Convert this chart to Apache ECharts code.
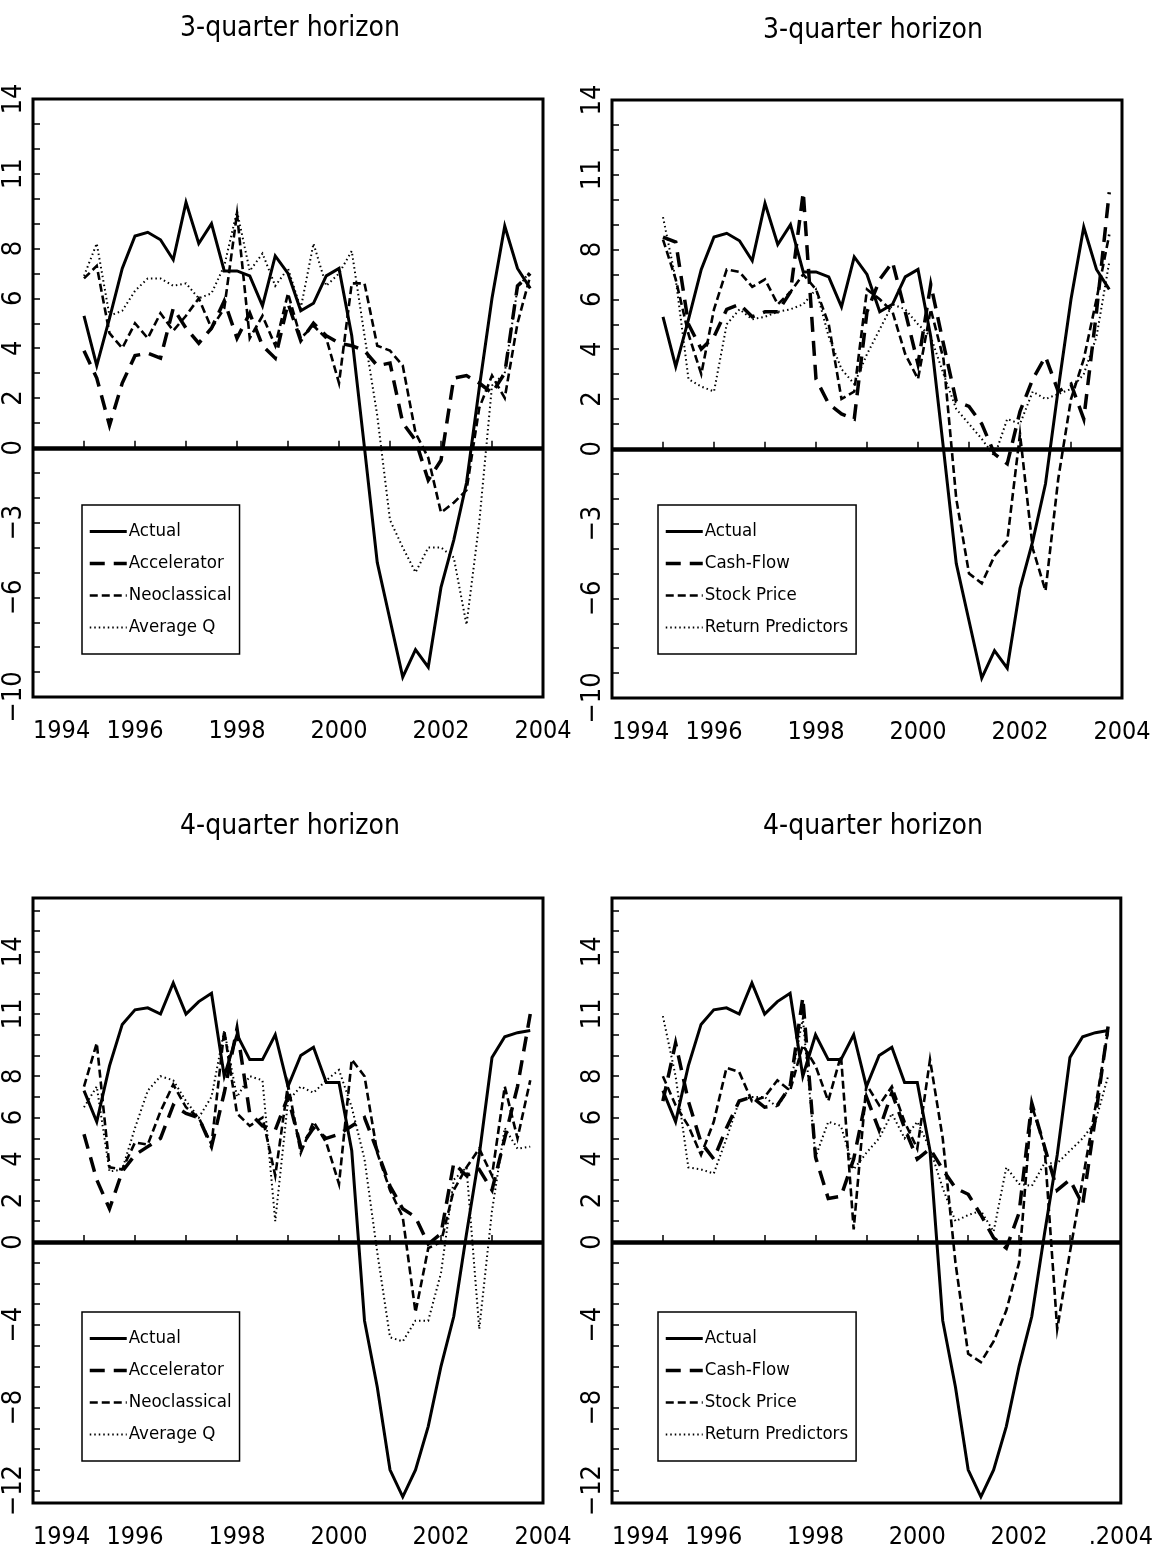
<!DOCTYPE html>
<html><head><meta charset="utf-8">
<script src="https://cdn.jsdelivr.net/npm/echarts@6/dist/echarts.min.js"></script>
<style>html,body{margin:0;padding:0;background:#fff}#c{width:1156px;height:1550px}</style>
</head><body><div id="c"></div><script>
const quarters = [1995.0,1995.25,1995.5,1995.75,1996.0,1996.25,1996.5,1996.75,1997.0,1997.25,1997.5,1997.75,1998.0,1998.25,1998.5,1998.75,1999.0,1999.25,1999.5,1999.75,2000.0,2000.25,2000.5,2000.75,2001.0,2001.25,2001.5,2001.75,2002.0,2002.25,2002.5,2002.75,2003.0,2003.25,2003.5,2003.75];

// 3-quarter horizon
const actual3 = [5.3,3.3,5.2,7.2,8.5,8.65,8.35,7.55,9.85,8.2,9.0,7.1,7.1,6.9,5.7,7.7,7.0,5.5,5.8,6.9,7.2,4.5,0.0,-4.6,-6.9,-9.2,-8.1,-8.8,-5.6,-3.7,-1.4,2.4,6.0,8.9,7.2,6.4];
const accel3 = [3.9,2.8,0.9,2.6,3.7,3.8,3.6,5.6,4.8,4.2,4.8,5.9,4.4,5.4,4.1,3.6,5.8,4.3,5.0,4.5,4.2,4.1,3.9,3.3,3.4,1.0,0.3,-1.3,-0.5,2.8,2.9,2.6,2.2,3.0,6.5,7.0];
const neo3 = [6.8,7.3,4.6,4.0,5.0,4.4,5.4,4.7,5.3,6.0,4.8,5.6,9.4,4.4,5.3,4.1,6.2,4.4,4.9,4.4,2.6,6.6,6.6,4.1,3.9,3.3,0.6,-0.4,-2.6,-2.2,-1.7,1.6,2.9,2.0,5.0,6.9];
const avgq3 = [6.9,8.2,5.3,5.5,6.3,6.8,6.8,6.5,6.6,6.0,6.2,7.3,9.5,7.1,7.8,6.5,7.2,5.6,8.2,6.5,7.0,7.9,4.5,1.3,-2.9,-4.0,-5.0,-4.0,-4.0,-4.4,-7.1,-3.0,2.5,3.0,6.4,7.1];
const cash3 = [8.5,8.3,5.0,4.0,4.5,5.6,5.8,5.3,5.5,5.5,6.3,10.3,2.8,1.8,1.4,1.2,5.5,6.8,7.5,5.5,3.4,6.6,4.2,1.9,1.7,1.0,-0.2,-0.6,1.5,2.8,3.7,2.3,2.6,1.2,5.5,10.3];
const stock3 = [8.4,6.8,4.6,3.0,5.6,7.2,7.1,6.5,6.8,5.8,6.3,7.0,6.4,5.0,2.0,2.3,6.4,6.0,5.5,3.8,2.8,5.6,3.6,-2.0,-5.0,-5.4,-4.3,-3.7,0.6,-4.0,-5.7,-1.2,2.0,3.6,6.0,8.6];
const ret3 = [9.3,6.8,2.8,2.5,2.3,5.0,5.6,5.2,5.3,5.5,5.6,5.8,6.4,4.5,3.2,2.6,3.8,4.8,5.8,5.6,5.0,4.5,3.0,1.6,1.0,0.4,-0.3,1.2,1.0,2.3,2.0,2.2,2.4,3.0,4.5,7.5];

// 4-quarter horizon
const actual4 = [7.3,5.8,8.5,10.5,11.2,11.3,11.0,12.5,11.0,11.6,12.0,8.0,10.0,8.8,8.8,10.0,7.5,9.0,9.4,7.7,7.7,4.4,-3.8,-7.0,-11.0,-12.3,-11.0,-8.9,-6.0,-3.6,0.4,4.2,8.9,9.9,10.1,10.2];
const accel4 = [5.2,3.0,1.6,3.4,4.2,4.6,5.0,6.6,6.2,6.0,4.6,7.2,10.3,6.2,5.6,5.4,7.0,4.6,5.5,5.0,5.2,5.6,6.0,4.4,2.7,1.6,1.2,-0.1,0.4,3.8,3.2,3.5,2.5,5.0,7.5,11.0];
const neo4 = [7.5,9.6,3.6,3.5,4.8,4.7,6.3,7.6,6.5,6.0,4.7,10.2,6.2,5.6,6.0,3.2,7.6,4.3,5.8,4.8,2.8,8.8,8.0,4.3,2.5,1.2,-3.4,-0.3,0.0,2.5,3.6,4.5,3.2,7.5,5.0,7.8];
const avgq4 = [6.5,7.5,3.4,3.5,5.5,7.3,8.0,7.8,6.8,6.0,7.0,10.2,7.0,8.0,7.8,1.0,6.8,7.5,7.2,7.8,8.3,6.5,4.0,-0.5,-4.6,-4.8,-3.8,-3.8,-1.5,3.0,3.6,-4.2,1.5,5.5,4.5,4.6];
const cash4 = [6.8,9.6,6.8,4.8,4.0,5.5,6.8,7.0,6.5,6.6,7.5,11.8,4.1,2.1,2.2,4.0,7.0,5.4,7.2,5.5,4.0,4.5,3.5,2.6,2.3,1.3,0.2,-0.3,1.4,6.7,4.6,2.5,3.0,1.8,6.0,10.4];
const stock4 = [8.0,6.6,5.6,4.2,5.8,8.4,8.2,6.8,7.0,7.8,7.3,9.5,8.5,6.8,9.0,0.6,7.6,6.6,7.5,5.8,4.5,8.8,5.0,-1.0,-5.4,-5.8,-4.8,-3.3,-1.0,6.6,4.6,-4.2,-0.5,3.0,6.5,10.2];
const ret4 = [10.9,8.0,3.6,3.5,3.3,5.0,6.8,7.0,7.0,6.5,7.5,10.8,4.1,5.8,5.6,3.5,4.3,5.0,6.2,5.0,5.8,4.5,2.6,1.0,1.3,1.5,0.5,3.6,2.8,2.7,3.8,3.8,4.4,5.0,5.8,8.0];

// axis ticks and labels
const yearTicks = [1995,1996,1997,1998,1999,2000,2001,2002,2003];
const yearLabels = [1994,1996,1998,2000,2002,2004];
const yearTextsLeft = ['1994','1996','1998','2000','2002','2004'];
const yearTextsBR = ['1994','1996','1998','2000','2002','.2004'];
const yLabels3 = [14,11,8,6,4,2,0,-3,-6,-10];
const yLabels4 = [14,11,8,6,4,2,0,-4,-8,-12];
const yTicks3 = [-9,-8,-7,-6,-5,-4,-3,-2,-1,1,2,3,4,5,6,7,8,9,10,11,12,13];
const yTicks4 = [-12,-11,-10,-9,-8,-7,-6,-5,-4,-3,-2,-1,1,2,3,4,5,6,7,8,9,10,11,12,13,14,15,16];

const namesA = ['Actual','Accelerator','Neoclassical','Average Q'];
const namesB = ['Actual','Cash-Flow','Stock Price','Return Predictors'];

const FONT = '"Liberation Sans Narrow","DejaVu Sans Condensed","Liberation Sans",sans-serif';
const styles = [
  {type:'solid', width:3},
  {type:[15,9], width:3.5},
  {type:[8,4], width:2.6},
  {type:[1.5,3], width:2}
];

const panels = [
  {grid:{left:30,top:99,width:513,height:598}, yMin:-10, yMax:14, yLabels:yLabels3, yTicks:yTicks3, title:'3-quarter horizon', tx:285, ty:10, names:namesA, data:[actual3,accel3,neo3,avgq3], xTexts:yearTextsLeft, legend:{left:82, top:505}},
  {grid:{left:612,top:100,width:510,height:598}, yMin:-10, yMax:14, yLabels:yLabels3, yTicks:yTicks3, title:'3-quarter horizon', tx:868, ty:12, names:namesB, data:[actual3,cash3,stock3,ret3], xTexts:yearTextsLeft, legend:{left:658, top:505}},
  {grid:{left:30,top:898,width:513,height:607}, yMin:-12.6, yMax:16.6, yLabels:yLabels4, yTicks:yTicks4, title:'4-quarter horizon', tx:285, ty:808, names:namesA, data:[actual4,accel4,neo4,avgq4], xTexts:yearTextsLeft, legend:{left:82, top:1312}},
  {grid:{left:612,top:898,width:510,height:607}, yMin:-12.6, yMax:16.6, yLabels:yLabels4, yTicks:yTicks4, title:'4-quarter horizon', tx:868, ty:808, names:namesB, data:[actual4,cash4,stock4,ret4], xTexts:yearTextsBR, legend:{left:658, top:1312}}
];

const option = {animation:false, backgroundColor:'#fff', title:[], grid:[], xAxis:[], yAxis:[], legend:[], series:[]};
panels.forEach((p,i)=>{
  option.title.push({text:p.title, left:p.tx, top:p.ty, textAlign:'center', textStyle:{fontFamily:FONT, fontWeight:'normal', fontSize:28, color:'#000'}});
  option.grid.push(Object.assign({show:true, borderColor:'#000', borderWidth:3, backgroundColor:'transparent'}, p.grid));
  option.xAxis.push({type:'value', gridIndex:i, min:1994, max:2004,
    axisLine:{show:false}, splitLine:{show:false},
    axisTick:{show:true, inside:true, length:7, customValues:yearTicks, lineStyle:{color:'#000', width:1.5}},
    axisLabel:{show:true, customValues:yearLabels, alignMinLabel:'left', color:'#000', fontFamily:FONT, fontSize:25, margin:22,
      formatter:(v)=>p.xTexts[yearLabels.indexOf(Math.round(v))]}});
  option.yAxis.push({type:'value', gridIndex:i, min:p.yMin, max:p.yMax,
    axisLine:{show:false}, splitLine:{show:false},
    axisTick:{show:true, inside:true, length:7, customValues:p.yTicks, lineStyle:{color:'#000', width:1.5}},
    axisLabel:{show:true, customValues:p.yLabels, rotate:90, color:'#000', fontFamily:FONT, fontSize:27, margin:6,
      formatter:(v)=> v<0 ? '\u2212'+Math.abs(v) : String(v)}});
  option.legend.push({show:true, orient:'vertical', left:p.legend.left, top:p.legend.top,
    data:p.names.map((nm,k)=>({name:nm, lineStyle:{width:styles[k].width, type:styles[k].type, color:'#000'}})),
    backgroundColor:'#fff', borderColor:'#000', borderWidth:1.5, padding:[17,8,17,6], itemGap:13,
    itemWidth:37, itemHeight:18, selectedMode:false, inactiveColor:'#000',
    itemStyle:{opacity:0, borderWidth:0},
    textStyle:{fontFamily:FONT, fontSize:18.5, color:'#000', padding:[0,0,0,-3]}});
  p.names.forEach((nm,k)=>{
    const s = {type:'line', name:nm, xAxisIndex:i, yAxisIndex:i, symbol:'none', showSymbol:false,
      data:p.data[k].map((v,j)=>[quarters[j], v]),
      lineStyle:Object.assign({color:'#000', cap:'butt', join:'miter'}, styles[k]),
      itemStyle:{color:'#000'}, z:10-k};
    if(k===0){
      s.markLine = {silent:true, symbol:'none', label:{show:false}, animation:false,
        lineStyle:{color:'#000', width:4.5, type:'solid'}, data:[{yAxis:0}]};
    }
    option.series.push(s);
  });
});
const chart = echarts.init(document.getElementById('c'), null, {renderer:'canvas'});
chart.setOption(option);
</script></body></html>
